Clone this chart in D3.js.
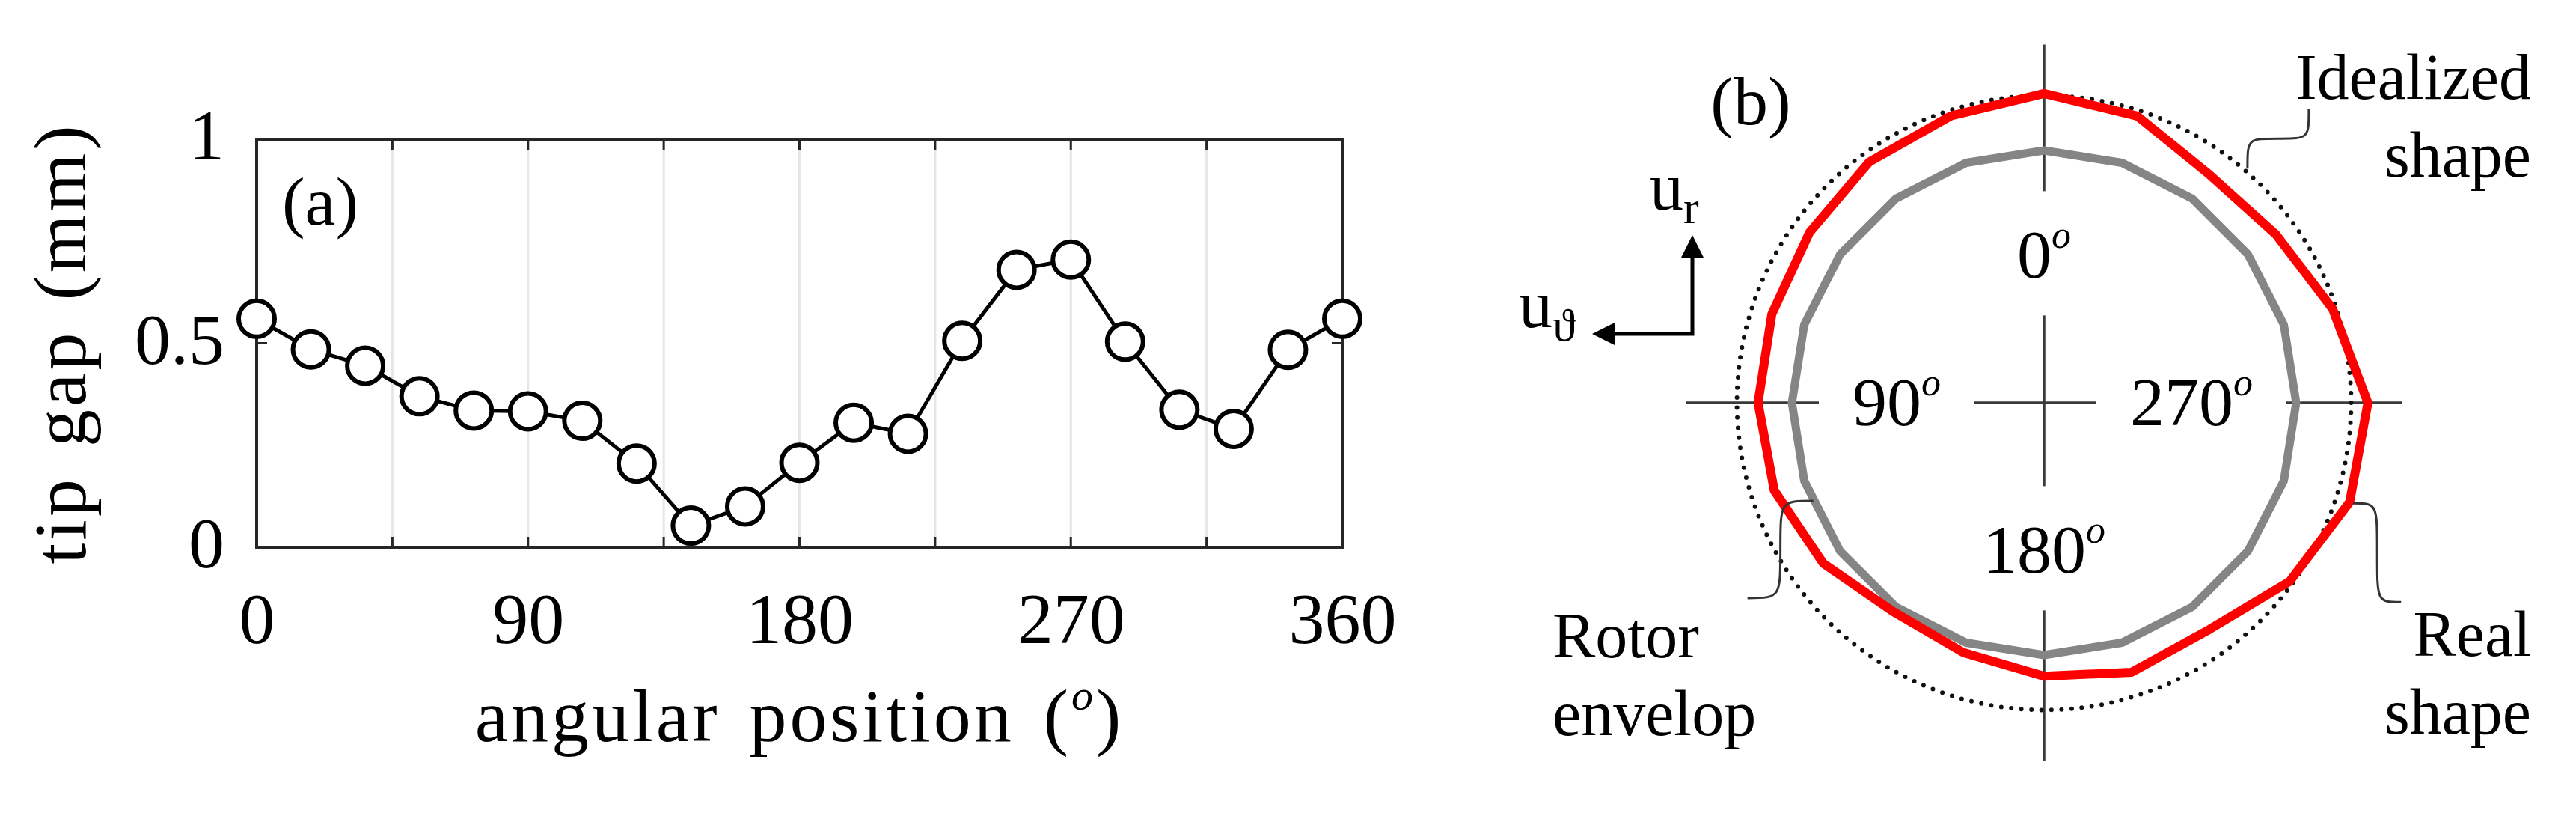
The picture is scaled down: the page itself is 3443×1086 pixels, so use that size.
<!DOCTYPE html>
<html>
<head>
<meta charset="utf-8">
<script src="https://cdn.jsdelivr.net/npm/d3@7/dist/d3.min.js"></script>
<style>
	body { margin: 0; background: #fff; }
	text { font-family: "Liberation Serif", "DejaVu Serif", serif; fill: #000; }
</style>
</head>
<body>
<svg id="chart"></svg>
<script>
// measured tip gap (mm) every 18 degrees
const angles = [0, 18, 36, 54, 72, 90, 108, 126, 144, 162, 180, 198, 216, 234, 252, 270, 288, 306, 324, 342, 360];
const tipGap = [0.56, 0.485, 0.445, 0.37, 0.335, 0.333, 0.31, 0.205, 0.053, 0.10, 0.207, 0.305, 0.278, 0.506, 0.68, 0.705, 0.504, 0.337, 0.29, 0.484, 0.56];
const xTicks = [0, 90, 180, 270, 360];
const xGrid = [0, 45, 90, 135, 180, 225, 270, 315, 360];
const yTicks = [0, 0.5, 1];
const idealGap = 0.54;
const polarLabels = ['0', '90', '180', '270'];
const polarLabelAngles = [0, 90, 180, 270];

const DIMENSION = {
	width: 3443,
	height: 1086,
	plot: { left: 343, right: 1794, top: 186, bottom: 731 },
	polar: { cx: 2732, cy: 538 }
};

const svg = d3.select('#chart')
	.attr('width', DIMENSION.width)
	.attr('height', DIMENSION.height);

// ---------- (a) tip gap vs angle ----------
const P = DIMENSION.plot;
const x = d3.scaleLinear().domain([0, 360]).range([P.left, P.right]);
const y = d3.scaleLinear().domain([0, 1]).range([P.bottom, P.top]);

const left = svg.append('g');

left.append('g').selectAll('line')
	.data(xGrid.slice(1, -1))
	.join('line')
	.attr('x1', d => x(d)).attr('x2', d => x(d))
	.attr('y1', P.top).attr('y2', P.bottom)
	.attr('stroke', '#e6e6e6')
	.attr('stroke-width', 3);

// inner ticks
const tickLen = 14;
const ticks = left.append('g').attr('stroke', '#262626').attr('stroke-width', 3);
for (let d of xGrid) {
	ticks.append('line').attr('x1', x(d)).attr('x2', x(d)).attr('y1', P.bottom).attr('y2', P.bottom - tickLen);
	ticks.append('line').attr('x1', x(d)).attr('x2', x(d)).attr('y1', P.top).attr('y2', P.top + tickLen);
}
for (let d of yTicks) {
	ticks.append('line').attr('x1', P.left).attr('x2', P.left + tickLen).attr('y1', y(d)).attr('y2', y(d));
	ticks.append('line').attr('x1', P.right).attr('x2', P.right - tickLen).attr('y1', y(d)).attr('y2', y(d));
}

left.append('rect')
	.attr('x', P.left).attr('y', P.top)
	.attr('width', P.right - P.left).attr('height', P.bottom - P.top)
	.attr('fill', 'none')
	.attr('stroke', '#262626')
	.attr('stroke-width', 4);

const xAxis = left.append('g')
	.attr('transform', `translate(0,${P.bottom})`)
	.call(d3.axisBottom(x).tickValues(xTicks).tickSize(0).tickPadding(60));
const yAxis = left.append('g')
	.attr('transform', `translate(${P.left},0)`)
	.call(d3.axisLeft(y).tickValues(yTicks).tickSize(0).tickPadding(43).tickFormat(d3.format('')));
for (let a of [xAxis, yAxis]) {
	a.select('.domain').remove();
	a.attr('font-family', null).attr('font-size', null);
	a.selectAll('text').attr('font-size', 96).attr('fill', '#000');
}
yAxis.selectAll('text').attr('dy', '0.28em');

const line = d3.line()
	.x((d, i) => x(angles[i]))
	.y(d => y(d));

left.append('path')
	.datum(tipGap)
	.attr('fill', 'none')
	.attr('stroke', '#000')
	.attr('stroke-width', 5)
	.attr('d', line);

left.append('g').selectAll('circle')
	.data(tipGap)
	.join('circle')
	.attr('cx', (d, i) => x(angles[i]))
	.attr('cy', d => y(d))
	.attr('r', 24)
	.attr('fill', '#fff')
	.attr('stroke', '#000')
	.attr('stroke-width', 6);

left.append('text')
	.attr('x', 428).attr('y', 300)
	.attr('text-anchor', 'middle')
	.attr('font-size', 92)
	.text('(a)');

const xLabel = left.append('text')
	.attr('x', (P.left + P.right) / 2).attr('y', 990)
	.attr('text-anchor', 'middle')
	.attr('font-size', 100)
	.attr('letter-spacing', 4)
	.attr('word-spacing', 10);
xLabel.append('tspan').text('angular position (');
xLabel.append('tspan').attr('font-style', 'italic').attr('font-size', 58).attr('dy', -42).text('o');
xLabel.append('tspan').attr('dy', 42).text(')');

left.append('text')
	.attr('transform', `translate(114,${(P.top + P.bottom) / 2}) rotate(-90)`)
	.attr('text-anchor', 'middle')
	.attr('font-size', 100)
	.attr('letter-spacing', 4)
	.attr('word-spacing', 10)
	.text('tip gap (mm)');

// ---------- (b) polar view ----------
const C = DIMENSION.polar;
const r = d3.scaleLinear().domain([0, 1]).range([337, 473]);
const right = svg.append('g').attr('transform', `translate(${C.cx},${C.cy})`);
const rad = a => -a * Math.PI / 180;
const polarXY = (a, rr) => [-Math.sin(a * Math.PI / 180) * rr, -Math.cos(a * Math.PI / 180) * rr];

const ring = angles.slice(0, -1);
const ringGap = tipGap.slice(0, -1);

// crosshair
const crossR = r(1.04);
const cross = right.append('g').attr('stroke', '#3a3a3a').attr('stroke-width', 3.5);
cross.append('line').attr('x1', 0).attr('x2', 0).attr('y1', -crossR).attr('y2', crossR);
cross.append('line').attr('x1', -crossR).attr('x2', crossR).attr('y1', 0).attr('y2', 0);

const labelR = 197;
const labelG = right.append('g');
polarLabels.forEach((lab, i) => {
	const [lx, ly] = polarXY(polarLabelAngles[i], labelR);
	const t = labelG.append('text')
		.attr('x', lx).attr('y', ly)
		.attr('dy', '0.33em')
		.attr('text-anchor', 'middle')
		.attr('font-size', 92);
	t.append('tspan').text(lab);
	t.append('tspan').attr('font-style', 'italic').attr('font-size', 52).attr('dy', -40).text('o');
	const bb = t.node().getBBox();
	labelG.insert('rect', 'text')
		.attr('x', bb.x - 45).attr('y', bb.y - 30)
		.attr('width', bb.width + 90).attr('height', bb.height + 60)
		.attr('fill', '#fff');
});

right.append('circle')
	.attr('r', r(idealGap))
	.attr('fill', 'none')
	.attr('stroke', '#111')
	.attr('stroke-width', 6)
	.attr('stroke-linecap', 'round')
	.attr('stroke-dasharray', '0 13.5');

const radial = d3.lineRadial()
	.angle(d => rad(d.angle))
	.radius(d => r(d.gap))
	.curve(d3.curveLinearClosed);

right.append('path')
	.datum(ring.map(a => ({ angle: a, gap: 0 })))
	.attr('fill', 'none')
	.attr('stroke', '#858585')
	.attr('stroke-width', 11)
	.attr('stroke-linejoin', 'round')
	.attr('d', radial);

right.append('path')
	.datum(ring.map((a, i) => ({ angle: a, gap: ringGap[i] })))
	.attr('fill', 'none')
	.attr('stroke', '#ff0000')
	.attr('stroke-width', 12)
	.attr('stroke-linejoin', 'round')
	.attr('d', radial);

// leaders
const hvh = (p0, p1) => {
	const xm = (p0[0] + p1[0]) / 2, ym = (p0[1] + p1[1]) / 2;
	return `M${p0[0]},${p0[1]} C${xm},${p0[1]} ${xm},${p0[1]} ${xm},${ym} C${xm},${p1[1]} ${xm},${p1[1]} ${p1[0]},${p1[1]}`;
};
const vhv = (p0, p1) => {
	const xm = (p0[0] + p1[0]) / 2, ym = (p0[1] + p1[1]) / 2;
	return `M${p0[0]},${p0[1]} C${p0[0]},${ym} ${p0[0]},${ym} ${xm},${ym} C${p1[0]},${ym} ${p1[0]},${ym} ${p1[0]},${p1[1]}`;
};
const leaders = right.append('g').attr('fill', 'none').attr('stroke', '#333').attr('stroke-width', 3);
const idealStart = polarXY(319, r(idealGap) + 4);
leaders.append('path').attr('d', vhv(idealStart, [idealStart[0] + 82, idealStart[1] - 80]));
const realStart = polarXY(252, r(tipGap[14]) + 5);
leaders.append('path').attr('d', hvh(realStart, [realStart[0] + 64, realStart[1] + 132]));
const rotorStart = polarXY(113, r(0) - 2);
leaders.append('path').attr('d', hvh(rotorStart, [rotorStart[0] - 88, rotorStart[1] + 130]));

const annot = (lines, ax, y0, anchor) => {
	lines.forEach((s, i) => {
		svg.append('text')
			.attr('x', ax).attr('y', y0 + i * 104)
			.attr('text-anchor', anchor)
			.attr('font-size', 86)
			.text(s);
	});
};
annot(['Idealized', 'shape'], 3383, 132, 'end');
annot(['Real', 'shape'], 3383, 876, 'end');
annot(['Rotor', 'envelop'], 2075, 878, 'start');

svg.append('text')
	.attr('x', 2340).attr('y', 166)
	.attr('text-anchor', 'middle')
	.attr('font-size', 92)
	.text('(b)');

// unit vectors
const defs = svg.append('defs');
defs.append('marker')
	.attr('id', 'head')
	.attr('viewBox', '0 0 10 10')
	.attr('refX', 2).attr('refY', 5)
	.attr('markerWidth', 6).attr('markerHeight', 6)
	.attr('orient', 'auto-start-reverse')
	.append('path').attr('d', 'M0,0 L10,5 L0,10 z').attr('fill', '#000');

const corner = [2262, 446];
svg.append('path')
	.attr('d', `M${corner[0] - 110},${corner[1]} L${corner[0]},${corner[1]} L${corner[0]},${corner[1] - 108}`)
	.attr('fill', 'none')
	.attr('stroke', '#000')
	.attr('stroke-width', 5)
	.attr('marker-start', 'url(#head)')
	.attr('marker-end', 'url(#head)');

const ur = svg.append('text').attr('x', 2205).attr('y', 280).attr('font-size', 90);
ur.append('tspan').text('u');
ur.append('tspan').attr('font-size', 62).attr('dy', 18).text('r');
const ut = svg.append('text').attr('x', 2030).attr('y', 437).attr('font-size', 90);
ut.append('tspan').text('u');
ut.append('tspan').attr('font-size', 62).attr('dy', 18).text('ϑ');
</script>
</body>
</html>
